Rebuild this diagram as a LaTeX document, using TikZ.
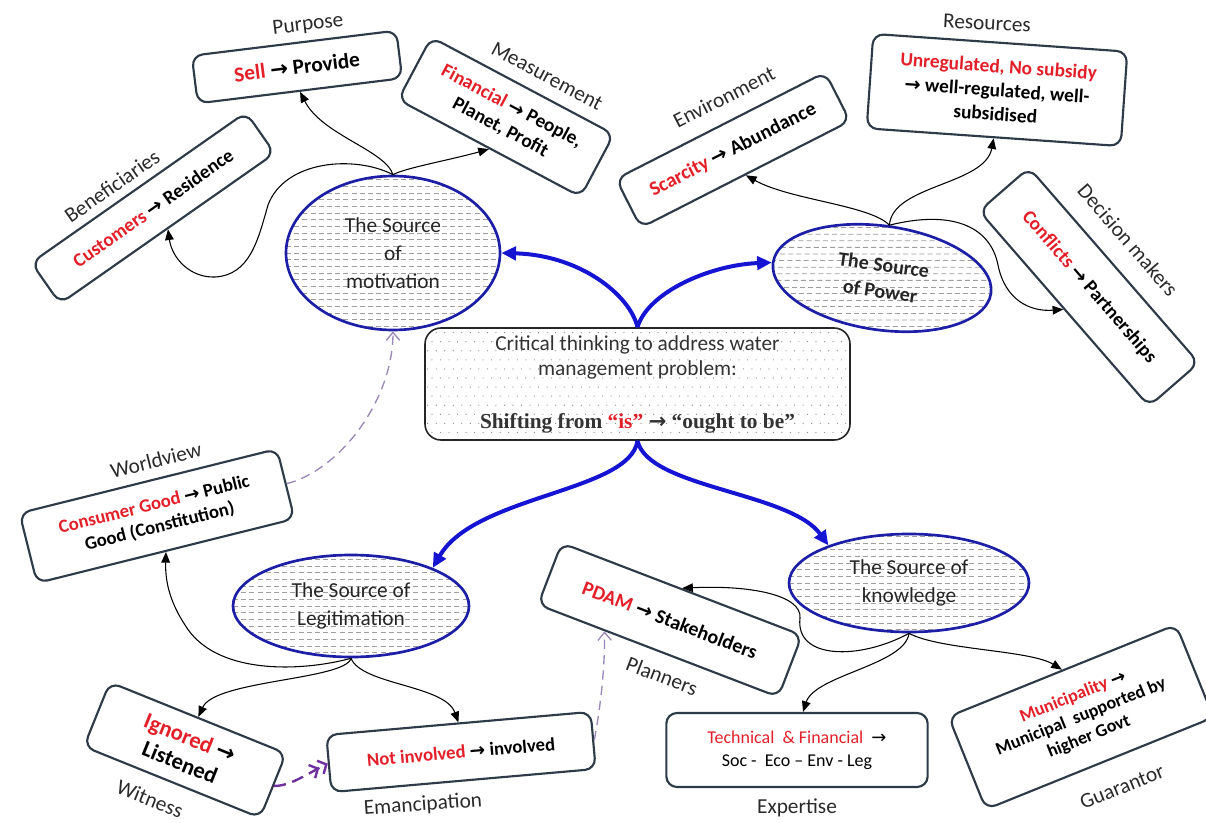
\documentclass[tikz,border=0pt]{standalone}
\usepackage{fontspec}
\setmainfont{Carlito}
\newfontfamily\serifface{Liberation Serif}
\newfontfamily\symface{DejaVu Sans}
\usetikzlibrary{arrows.meta,shapes.geometric,calc}

\definecolor{redtxt}{HTML}{E3202A}
\definecolor{boxline}{HTML}{2E3A48}
\definecolor{ringblue}{HTML}{1C1FA6}
\definecolor{flowblue}{HTML}{1414D2}
\definecolor{linkpurple}{HTML}{9A88B8}
\definecolor{deeppurple}{HTML}{7030A0}
\definecolor{labelgray}{HTML}{2A2A2A}

\newcommand{\ra}{{\symface\char"2192}}
\newcommand{\hl}[1]{{\color{redtxt}#1}}
\newcommand{\fsz}[2]{\fontsize{#1}{#2}\selectfont}

\tikzset{
  card/.style={draw=boxline, line width=1.6pt, rounded corners=8pt, fill=white,
    align=center, inner sep=2pt, text=black},
  tag/.style={font=\fsz{16}{19}, text=labelgray, inner sep=0pt},
  source/.style={ellipse, draw=ringblue, line width=2pt, fill=white, align=center,
    inner sep=0pt, text=black!85, font=\fsz{16}{21},
    path picture={
      \foreach \k in {-12,...,12}
        \draw[black!38, line width=0.6pt, dash pattern=on 3.75pt off 2.4pt]
          ([yshift=\k*5pt]path picture bounding box.west) --
          ([yshift=\k*5pt]path picture bounding box.east);}},
  core/.style={draw=black!85, line width=1.2pt, rounded corners=12pt, fill=white,
    align=center, inner sep=0pt, text=black!80, font=\fsz{16}{18.75},
    path picture={
      \foreach \j in {0,...,12}{
        \pgfmathsetmacro{\dx}{mod(\j,2)*3.2}
        \foreach \i in {0,...,50}
          \fill[black!50] ([xshift={(\dx+2+\i*6.4)*1pt}, yshift={-(3.5+\j*6.8)*1pt}]path picture bounding box.north west) circle (0.45pt);
      }}},
  branch/.style={draw=black, line width=0.8pt, -{Triangle[length=8pt,width=6.5pt]}},
  mainflow/.style={draw=flowblue, line width=3pt, -{Triangle[length=11pt,width=10pt]}},
  hint/.style={draw=linkpurple, line width=1pt, dash pattern=on 7pt off 4.5pt,
    -{Straight Barb[length=6pt,width=10pt]}},
}

\begin{document}
\begin{tikzpicture}[x=0.75pt, y=-0.75pt]
\useasboundingbox (0,0) rectangle (1206,823);

% central statement
\node[core, minimum width=318.75pt, minimum height=84pt] (core) at (637.5,384)
  {Critical thinking to address water\\ management problem:\\[21pt]
   \serifface\bfseries Shifting from \hl{“is”} \ra\ “ought to be”};

% the four sources
\node[source, minimum width=160.5pt, minimum height=115.5pt] (mot) at (393,253)
  {The Source\\ of\\ motivation};
\node[source, minimum width=165pt, minimum height=78pt, rotate=-8, font=\bfseries\fsz{15}{20}] (pow) at (882,278)
  {The Source\\ of Power};
\node[source, minimum width=177pt, minimum height=76.5pt] (leg) at (351,606)
  {The Source of\\ Legitimation};
\node[source, minimum width=180pt, minimum height=73.5pt] (know) at (909,583)
  {The Source of\\ knowledge};

% shift boxes
\node[card, minimum width=154.5pt, minimum height=36pt, rotate=7, font=\bfseries\fsz{16}{19}] (purpose) at (297,67)
  {\hl{Sell} \ra\ Provide};
\node[card, minimum width=196.5pt, minimum height=37.5pt, rotate=35, font=\bfseries\fsz{14.5}{17}] (benef) at (153,208)
  {\hl{Customers} \ra\ Residence};
\node[card, minimum width=155pt, minimum height=53pt, rotate=-28, font=\bfseries\fsz{14.5}{18}] (meas) at (506,117)
  {\hl{Financial} \ra\ People,\\ Planet, Profit};
\node[card, minimum width=176pt, minimum height=41pt, rotate=27, font=\bfseries\fsz{15}{18}] (env) at (733,150)
  {\hl{Scarcity} \ra\ Abundance};
\node[card, minimum width=191pt, minimum height=71pt, rotate=-4, font=\bfseries\fsz{14.5}{18}] (res) at (997,90)
  {\hl{Unregulated, No subsidy}\\ \ra\ well-regulated, well-\\ subsidised};
\node[card, minimum width=194pt, minimum height=49.5pt, rotate=-49, font=\bfseries\fsz{14.5}{17}] (dec) at (1089,287)
  {\hl{Conflicts} \ra\ Partnerships};
\node[card, minimum width=199pt, minimum height=54pt, rotate=14, font=\bfseries\fsz{14}{17}] (world) at (157,516)
  {\hl{Consumer Good} \ra\ Public\\ Good (Constitution)};
\node[card, minimum width=142.5pt, minimum height=52pt, rotate=-22, font=\bfseries\fsz{17}{20}] (wit) at (185,750)
  {\hl{Ignored} \ra\\ Listened};
\node[card, minimum width=199pt, minimum height=43pt, rotate=5, font=\bfseries\fsz{14}{17}] (eman) at (461,752)
  {\hl{Not involved} \ra\ involved};
\node[card, minimum width=193pt, minimum height=49.5pt, rotate=-21, font=\bfseries\fsz{15}{18}] (plan) at (670,620)
  {\hl{PDAM} \ra\ Stakeholders};
\node[card, minimum width=196pt, minimum height=55.5pt, font=\fsz{13.5}{17}] (expt) at (797,750)
  {\hl{Technical \ \& Financial} \ \ra\\ Soc - \ Eco – Env - Leg};
\node[card, minimum width=184pt, minimum height=75pt, rotate=22, font=\bfseries\fsz{13.5}{16}] (guar) at (1081,717)
  {\hl{Municipality} \ra\\ Municipal \ supported by\\ higher Govt};

% dimension labels
\node[tag, rotate=7]   (tpurpose) at (308,25)   {Purpose};
\node[tag, rotate=35]  (tbenef)   at (112,186)  {Beneficiaries};
\node[tag, rotate=-28] (tmeas)    at (547,76)   {Measurement};
\node[tag, rotate=27]  (tenv)     at (724,97)   {Environment};
\node[tag, rotate=-3]  (tres)     at (987,23)   {Resources};
\node[tag, rotate=-49] (tdec)     at (1128,240) {Decision makers};
\node[tag, rotate=14]  (tworld)   at (156,460)  {Worldview};
\node[tag, rotate=-22] (twit)     at (150,799)  {Witness};
\node[tag, rotate=4]   (teman)    at (423,805)  {Emancipation};
\node[tag, rotate=-21] (tplan)    at (662,676)  {Planners};
\node[tag]             (texpt)    at (797,808)  {Expertise};
\node[tag, rotate=22]  (tguar)    at (1122,787) {Guarantor};

% main blue flows
\draw[mainflow] (core.north) .. controls (630,295) and (580,255) .. (mot.east);
\draw[mainflow] (core.north) .. controls (648,292) and (710,265) .. (pow.west);
\draw[mainflow] (core.south) .. controls (630,492) and (475,495) .. (leg.25);
\draw[mainflow] (core.south) .. controls (648,488) and (790,492) .. (know.155);

% branches of motivation
\draw[branch] (mot.north) .. controls (385,150) and (322,135) .. (purpose.south);
\draw[branch] (mot.north) .. controls (405,168) and (450,160) .. (meas.south);
\draw[branch] (mot.north) .. controls (355,155) and (285,160) .. (268,205)
  .. controls (258,240) and (250,275) .. (215,277)
  .. controls (190,278) and (172,258) .. (benef.south);

% branches of power
\draw[branch] (pow.north) .. controls (870,205) and (790,200) .. (env.south);
\draw[branch] (pow.north) .. controls (892,185) and (985,185) .. (res.south);
\draw[branch] (pow.north) .. controls (950,210) and (990,225) .. (998,265)
  .. controls (1005,300) and (1030,312) .. (dec.south);

% branches of legitimation
\draw[branch] (leg.south) .. controls (300,672) and (215,675) .. (185,625)
  .. controls (172,605) and (165,585) .. (world.south);
\draw[branch] (leg.south) .. controls (345,680) and (215,680) .. (wit.north);
\draw[branch] (leg.south) .. controls (362,685) and (445,685) .. (eman.north);

% branches of knowledge
\draw[branch] (know.south) .. controls (860,660) and (795,660) .. (800,618)
  .. controls (802,595) and (750,585) .. (plan.north);
\draw[branch] (know.south) .. controls (905,665) and (815,675) .. ([xshift=4.5pt]expt.north);
\draw[branch] (know.south) .. controls (940,650) and (1030,650) .. (guar.north);

% cross links
\draw[hint] (world.east) .. controls (340,470) and (393,400) .. (mot.south);
\draw[hint] (eman.east) .. controls (600,710) and (605,670) .. ($(plan.south)!0.44!(plan.south west)$);
\draw[draw=deeppurple, line width=1.8pt, dash pattern=on 9pt off 5pt,
  -{Straight Barb[length=5pt,width=11pt] Straight Barb[length=5pt,width=11pt]}]
  (wit.east) .. controls (290,786) and (305,775) .. (eman.west);
\end{tikzpicture}
\end{document}
